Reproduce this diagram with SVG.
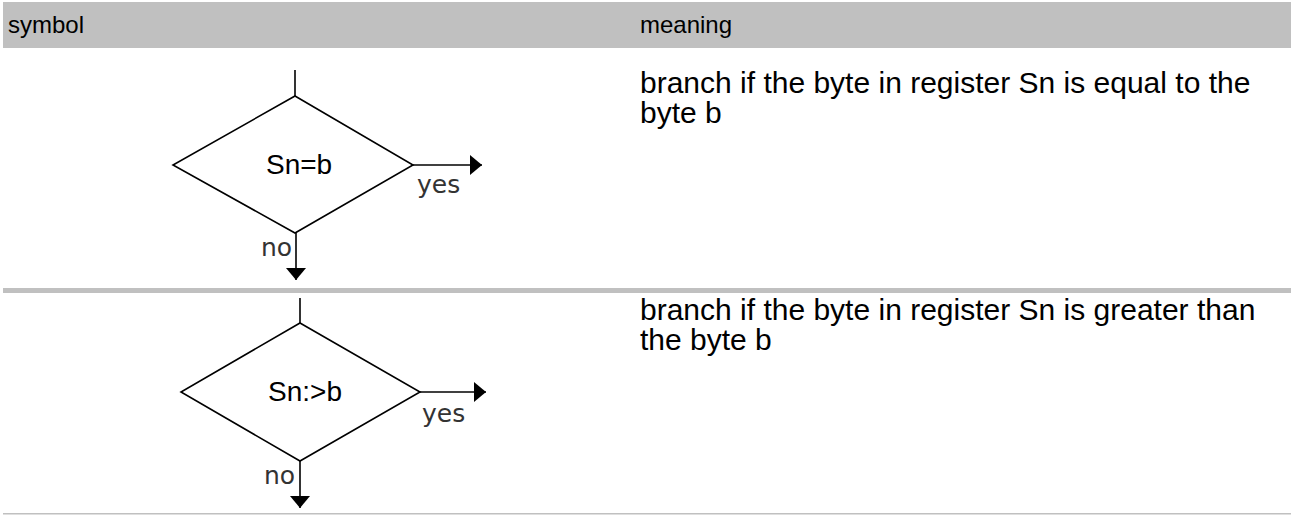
<svg xmlns="http://www.w3.org/2000/svg" width="1293" height="515" viewBox="0 0 1293 515">
<defs>
<style>
.h{font-family:"Liberation Sans",Arial,sans-serif;font-size:24px;fill:#000}
.t{font-family:"Liberation Sans",Arial,sans-serif;font-size:30px;fill:#000}
.s{font-family:"Liberation Sans",Arial,sans-serif;font-size:28px;fill:#000}
.lbl{font-family:"DejaVu Sans","Liberation Sans",sans-serif;font-size:25px;fill:#333}
.d{fill:#fff;stroke:#000;stroke-width:1.6}
.c{fill:none;stroke:#000;stroke-width:1.6}
</style>
<marker id="ah" viewBox="0 0 12 20" refX="12" refY="10" markerWidth="12" markerHeight="20" markerUnits="userSpaceOnUse" orient="auto">
<path d="M0,0 L12,10 L0,20 Z" fill="#000"/>
</marker>
</defs>
<rect x="3" y="2" width="1288" height="46" fill="#c0c0c0"/>
<text class="h" x="8" y="33">symbol</text>
<text class="h" x="640" y="33">meaning</text>
<rect x="3" y="288" width="1288" height="5" fill="#c0c0c0"/>
<rect x="3" y="513" width="1288" height="1.5" fill="#c0c0c0"/>
<g id="connectors">
<line class="c" x1="295" y1="70" x2="295" y2="96"/>
<line class="c" x1="413" y1="165" x2="482" y2="165" marker-end="url(#ah)"/>
<line class="c" x1="296" y1="233" x2="296" y2="280" marker-end="url(#ah)"/>
<line class="c" x1="300" y1="298" x2="300" y2="323"/>
<line class="c" x1="420" y1="392" x2="486" y2="392" marker-end="url(#ah)"/>
<line class="c" x1="300" y1="461" x2="300" y2="508" marker-end="url(#ah)"/>
</g>
<g id="node1">
<polygon class="d" points="295,96 413,165 295,233 173,165"/>
<text class="s" x="266" y="174">Sn=b</text>
<text class="lbl" x="417" y="193">yes</text>
<text class="lbl" x="261" y="256">no</text>
</g>
<g id="desc1">
<text class="t" x="640" y="93">branch if the byte in register Sn is equal to the</text>
<text class="t" x="640" y="123">byte b</text>
</g>
<g id="node2">
<polygon class="d" points="300,323 420,392 300,461 181,392"/>
<text class="s" x="268" y="401">Sn:&gt;b</text>
<text class="lbl" x="422" y="422">yes</text>
<text class="lbl" x="264" y="484">no</text>
</g>
<g id="desc2">
<text class="t" x="640" y="320">branch if the byte in register Sn is greater than</text>
<text class="t" x="640" y="350">the byte b</text>
</g>
</svg>
